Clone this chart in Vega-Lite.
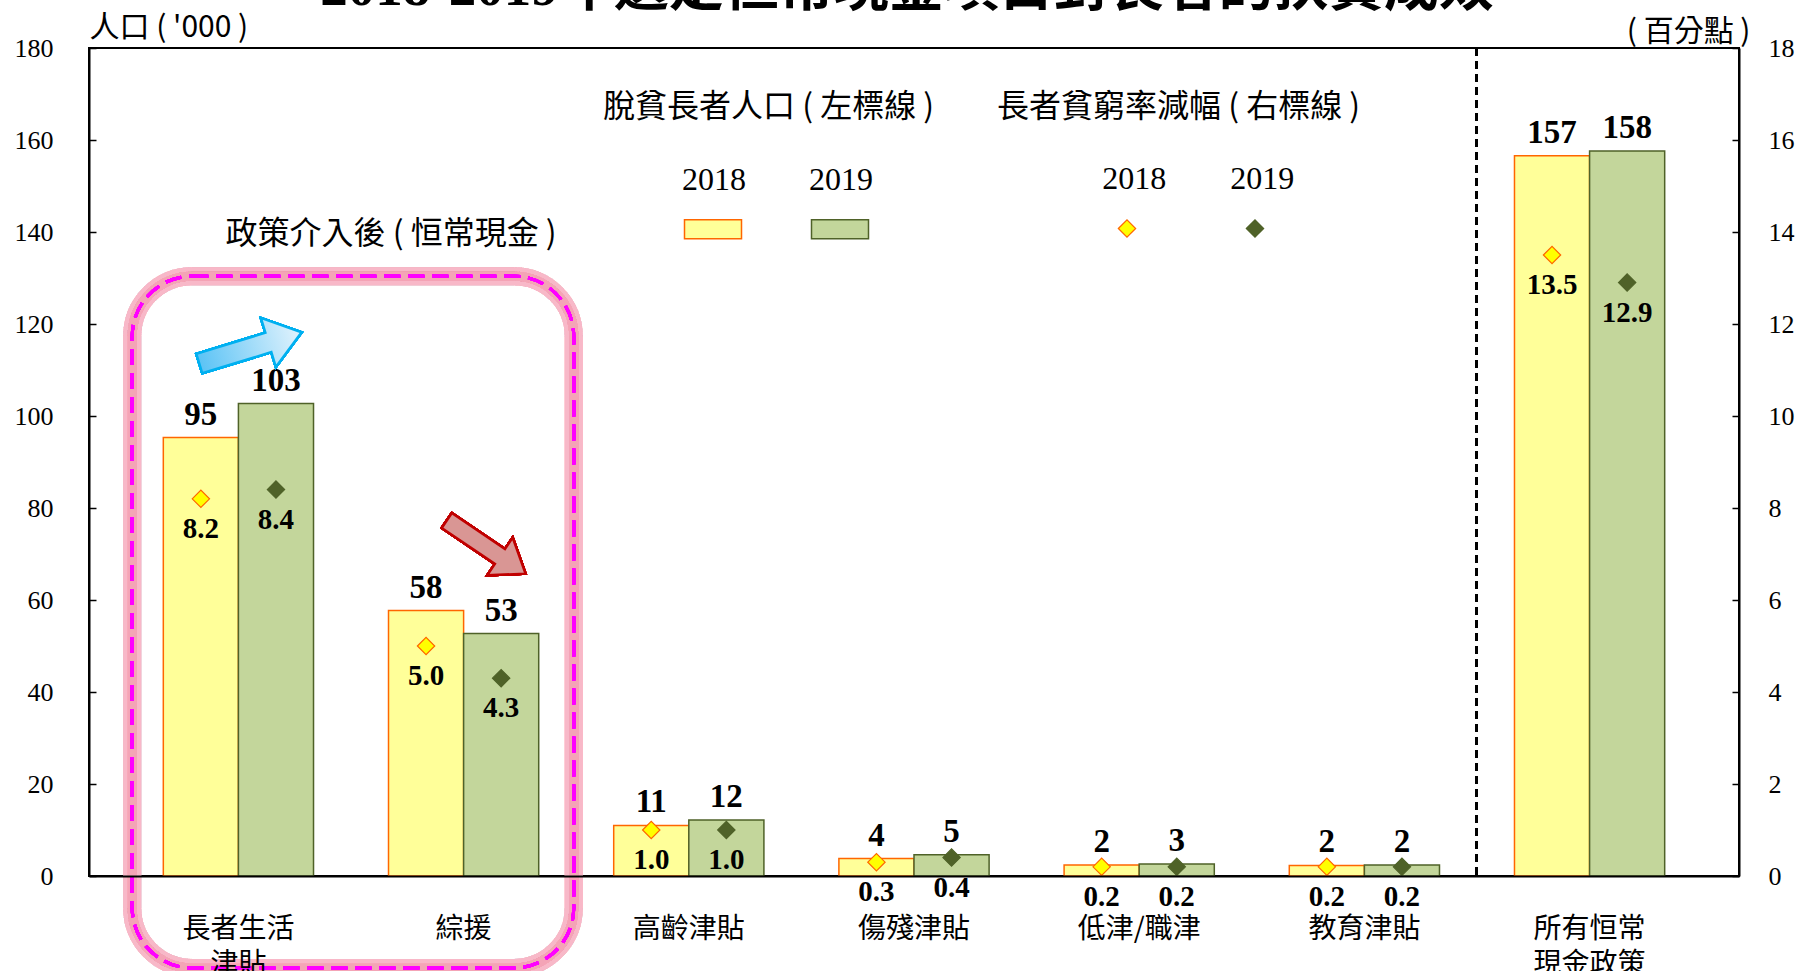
{
  "$schema": "https://vega.github.io/schema/vega-lite/v6.json",
  "width": 1650,
  "height": 828,
  "autosize": {"type": "none"},
  "padding": {"left": 89, "top": 48, "right": 61, "bottom": 95},
  "background": "#ffffff",
  "title": {
    "text": "2018-2019年選定恒常現金項目對長者的扶貧成效",
    "frame": "group",
    "anchor": "middle",
    "baseline": "alphabetic",
    "offset": 0,
    "dy": 48,
    "dx": -7,
    "fontSize": 55,
    "font": "Liberation Serif, Noto Sans CJK TC",
    "fontWeight": "bold",
    "color": "#000000"
  },
  "data": {
    "values": [
      {"item": "長者生活津貼", "year": "2018", "pop": 95.3, "rate": 8.2},
      {"item": "長者生活津貼", "year": "2019", "pop": 102.7, "rate": 8.4},
      {"item": "綜援", "year": "2018", "pop": 57.7, "rate": 5.0},
      {"item": "綜援", "year": "2019", "pop": 52.7, "rate": 4.3},
      {"item": "高齡津貼", "year": "2018", "pop": 11.0, "rate": 1.0},
      {"item": "高齡津貼", "year": "2019", "pop": 12.2, "rate": 1.0},
      {"item": "傷殘津貼", "year": "2018", "pop": 3.8, "rate": 0.3},
      {"item": "傷殘津貼", "year": "2019", "pop": 4.6, "rate": 0.4},
      {"item": "低津/職津", "year": "2018", "pop": 2.4, "rate": 0.2},
      {"item": "低津/職津", "year": "2019", "pop": 2.6, "rate": 0.2},
      {"item": "教育津貼", "year": "2018", "pop": 2.3, "rate": 0.2},
      {"item": "教育津貼", "year": "2019", "pop": 2.4, "rate": 0.2},
      {"item": "所有恒常現金政策", "year": "2018", "pop": 156.6, "rate": 13.5},
      {"item": "所有恒常現金政策", "year": "2019", "pop": 157.6, "rate": 12.9}
    ]
  },
  "config": {
    "font": "Noto Sans CJK TC",
    "view": {"stroke": "#000000", "strokeWidth": 2},
    "axisX": {
      "labelFont": "Noto Sans CJK TC",
      "labelFontSize": 28,
      "labelColor": "#000000",
      "labelPadding": 39,
      "labelAngle": 0,
      "labelLimit": 0,
      "labelLineHeight": 35,
      "ticks": false,
      "domainColor": "#000000",
      "domainWidth": 2,
      "grid": false,
      "titleAngle": 0,
      "titleX": 136,
      "titleY": -643,
      "titleAlign": "left",
      "titleBaseline": "middle",
      "titleFont": "Noto Sans CJK TC",
      "titleFontSize": 32,
      "titleFontWeight": "normal",
      "titleColor": "#000000"
    },
    "axisLeft": {
      "labelFont": "Liberation Serif",
      "labelFontSize": 26,
      "labelColor": "#000000",
      "labelPadding": 43,
      "tickSize": -7,
      "tickColor": "#000000",
      "tickWidth": 1.5,
      "domainColor": "#000000",
      "domainWidth": 2,
      "grid": false,
      "titleAngle": 0,
      "titleX": 0,
      "titleY": -21,
      "titleAlign": "left",
      "titleBaseline": "middle",
      "titleFont": "Noto Sans CJK TC",
      "titleFontSize": 30,
      "titleFontWeight": "normal",
      "titleColor": "#000000"
    },
    "axisRight": {
      "labelFont": "Liberation Serif",
      "labelFontSize": 26,
      "labelColor": "#000000",
      "labelPadding": 36,
      "tickSize": -7,
      "tickColor": "#000000",
      "tickWidth": 1.5,
      "domainColor": "#000000",
      "domainWidth": 2,
      "grid": false,
      "titleAngle": 0,
      "titleX": 11,
      "titleY": -17,
      "titleAlign": "right",
      "titleBaseline": "middle",
      "titleFont": "Noto Sans CJK TC",
      "titleFontSize": 30,
      "titleFontWeight": "normal",
      "titleColor": "#000000"
    },
    "legend": {
      "orient": "none",
      "padding": 0,
      "direction": "horizontal",
      "titleOrient": "top",
      "titleFont": "Noto Sans CJK TC",
      "titleFontSize": 32,
      "titleFontWeight": "normal",
      "titleColor": "#000000",
      "titleLimit": 0,
      "labelFont": "Liberation Serif",
      "labelFontSize": 32,
      "labelColor": "#000000",
      "labelAlign": "center"
    }
  },
  "layer": [
    {
      "layer": [
        {
          "mark": {"type": "rect", "fill": null, "stroke": "#F6B8C6", "strokeWidth": 18, "strokeOpacity": 0.25, "cornerRadius": 60},
          "encoding": {
            "x": {"datum": "長者生活津貼", "type": "nominal", "bandPosition": -0.207, "title": "政策介入後 ( 恒常現金 )"},
            "x2": {"datum": "綜援", "bandPosition": 1.233},
            "y": {"datum": 130.4, "type": "quantitative", "title": "人口 ( '000 )"},
            "y2": {"datum": -20}
          }
        },
        {
          "mark": {"type": "rect", "fill": null, "stroke": "#F4A3B6", "strokeWidth": 9, "strokeOpacity": 0.45, "cornerRadius": 60},
          "encoding": {
            "x": {"datum": "長者生活津貼", "type": "nominal", "bandPosition": -0.207, "title": "政策介入後 ( 恒常現金 )"},
            "x2": {"datum": "綜援", "bandPosition": 1.233},
            "y": {"datum": 130.4, "type": "quantitative", "title": "人口 ( '000 )"},
            "y2": {"datum": -20}
          }
        },
        {
          "mark": {"type": "rect", "fill": null, "stroke": "#FF00FF", "strokeWidth": 3, "strokeDash": [16, 8], "cornerRadius": 60},
          "encoding": {
            "x": {"datum": "長者生活津貼", "type": "nominal", "bandPosition": -0.207, "title": "政策介入後 ( 恒常現金 )"},
            "x2": {"datum": "綜援", "bandPosition": 1.233},
            "y": {"datum": 130.4, "type": "quantitative", "title": "人口 ( '000 )"},
            "y2": {"datum": -20}
          }
        },
        {
          "mark": {"type": "bar", "strokeWidth": 1.5},
          "encoding": {
            "x": {
              "field": "item",
              "type": "nominal",
              "sort": null,
              "title": "政策介入後 ( 恒常現金 )",
              "scale": {"paddingInner": 0.333, "paddingOuter": 0.33},
              "axis": {
                "labelExpr": "datum.value == '長者生活津貼' ? ['長者生活', '津貼'] : datum.value == '所有恒常現金政策' ? ['所有恒常', '現金政策'] : datum.value"
              }
            },
            "xOffset": {"field": "year", "type": "nominal", "scale": {"paddingInner": 0, "paddingOuter": 0}},
            "y": {
              "field": "pop",
              "type": "quantitative",
              "title": "人口 ( '000 )",
              "scale": {"domain": [0, 180], "nice": false},
              "axis": {"orient": "left", "values": [0, 20, 40, 60, 80, 100, 120, 140, 160, 180]}
            },
            "fill": {
              "field": "year",
              "type": "nominal",
              "scale": {"domain": ["2018", "2019"], "range": ["#FFFF99", "#C3D69B"]},
              "legend": {
                "title": "脫貧長者人口 ( 左標線 )",
                "legendX": 514,
                "legendY": 44,
                "symbolType": "M-1.5,-0.5H1.5V0.5H-1.5Z",
                "symbolSize": 1444,
                "symbolStrokeWidth": 1.5,
                "labelOffset": -19,
                "columnPadding": 62,
                "titlePadding": 85,
                "encoding": {
                  "labels": {"dy": {"value": -49}},
                  "title": {"dx": {"value": -90}}
                }
              }
            },
            "stroke": {
              "field": "year",
              "type": "nominal",
              "scale": {"domain": ["2018", "2019"], "range": ["#FF6600", "#4F6228"]},
              "legend": {
                "title": "脫貧長者人口 ( 左標線 )",
                "encoding": {
                  "labels": {"dy": {"value": -49}},
                  "title": {"dx": {"value": -90}}
                }
              }
            }
          }
        },
        {
          "mark": {"type": "text", "font": "Liberation Serif", "fontWeight": "bold", "fontSize": 33, "baseline": "alphabetic", "dy": -13, "color": "#000000"},
          "encoding": {
            "x": {"field": "item", "type": "nominal", "sort": null, "title": "政策介入後 ( 恒常現金 )"},
            "xOffset": {"field": "year", "type": "nominal"},
            "y": {"field": "pop", "type": "quantitative", "title": "人口 ( '000 )"},
            "text": {"field": "pop", "type": "quantitative", "format": ".0f"}
          }
        },
        {
          "mark": {"type": "rule", "stroke": "#000000", "strokeWidth": 2, "strokeDash": [8, 5]},
          "encoding": {
            "x": {"datum": "所有恒常現金政策", "type": "nominal", "bandPosition": -0.253, "title": "政策介入後 ( 恒常現金 )"},
            "y": {"datum": 180, "type": "quantitative", "title": "人口 ( '000 )"},
            "y2": {"datum": 0}
          }
        },
        {
          "mark": {
            "type": "point",
            "shape": "M-1,-0.19L0.35,-0.19L0.35,-0.48L1,0L0.35,0.48L0.35,0.19L-1,0.19Z",
            "size": 11449,
            "angle": -17,
            "filled": true,
            "opacity": 1,
            "fill": {"gradient": "linear", "x1": 0, "y1": 0, "x2": 1, "y2": 0, "stops": [{"offset": 0, "color": "#5BC3F5"}, {"offset": 1, "color": "#E3F3FD"}]},
            "stroke": "#00B0F0",
            "strokeWidth": 2.5
          },
          "encoding": {
            "x": {"datum": "長者生活津貼", "type": "nominal", "bandPosition": 0.58, "title": "政策介入後 ( 恒常現金 )"},
            "y": {"datum": 114.8, "type": "quantitative", "title": "人口 ( '000 )"}
          }
        },
        {
          "mark": {
            "type": "point",
            "shape": "M-1,-0.19L0.35,-0.19L0.35,-0.48L1,0L0.35,0.48L0.35,0.19L-1,0.19Z",
            "size": 9025,
            "angle": 34,
            "filled": true,
            "opacity": 1,
            "fill": "#D99694",
            "stroke": "#C00000",
            "strokeWidth": 2.5
          },
          "encoding": {
            "x": {"datum": "綜援", "type": "nominal", "bandPosition": 0.65, "title": "政策介入後 ( 恒常現金 )"},
            "y": {"datum": 71.5, "type": "quantitative", "title": "人口 ( '000 )"}
          }
        }
      ]
    },
    {
      "layer": [
        {
          "mark": {"type": "point", "shape": "diamond", "size": 300, "filled": true, "opacity": 1, "strokeWidth": 1.2},
          "encoding": {
            "x": {"field": "item", "type": "nominal", "sort": null, "title": "政策介入後 ( 恒常現金 )"},
            "xOffset": {"field": "year", "type": "nominal"},
            "y": {
              "field": "rate",
              "type": "quantitative",
              "title": "( 百分點 )",
              "scale": {"domain": [0, 18], "nice": false},
              "axis": {"orient": "right", "values": [0, 2, 4, 6, 8, 10, 12, 14, 16, 18]}
            },
            "fill": {
              "field": "year",
              "type": "nominal",
              "scale": {"domain": ["2018", "2019"], "range": ["#FFFF00", "#4F6228"]},
              "legend": {
                "title": "長者貧窮率減幅 ( 右標線 )",
                "legendX": 908,
                "legendY": 44,
                "symbolType": "diamond",
                "symbolSize": 300,
                "symbolStrokeWidth": 1.2,
                "labelOffset": -8.7,
                "columnPadding": 63,
                "titlePadding": 88,
                "encoding": {
                  "labels": {"dy": {"value": -49}},
                  "title": {"dx": {"value": -114}}
                }
              }
            },
            "stroke": {
              "field": "year",
              "type": "nominal",
              "scale": {"domain": ["2018", "2019"], "range": ["#FF6600", "#4F6228"]},
              "legend": {
                "title": "長者貧窮率減幅 ( 右標線 )",
                "encoding": {
                  "labels": {"dy": {"value": -49}},
                  "title": {"dx": {"value": -114}}
                }
              }
            }
          }
        },
        {
          "mark": {"type": "text", "font": "Liberation Serif", "fontWeight": "bold", "fontSize": 29, "baseline": "alphabetic", "dy": 39, "color": "#000000"},
          "encoding": {
            "x": {"field": "item", "type": "nominal", "sort": null, "title": "政策介入後 ( 恒常現金 )"},
            "xOffset": {"field": "year", "type": "nominal"},
            "y": {"field": "rate", "type": "quantitative", "title": "( 百分點 )"},
            "text": {"field": "rate", "type": "quantitative", "format": ".1f"}
          }
        }
      ]
    }
  ],
  "resolve": {"scale": {"y": "independent", "fill": "independent", "stroke": "independent"}}
}
